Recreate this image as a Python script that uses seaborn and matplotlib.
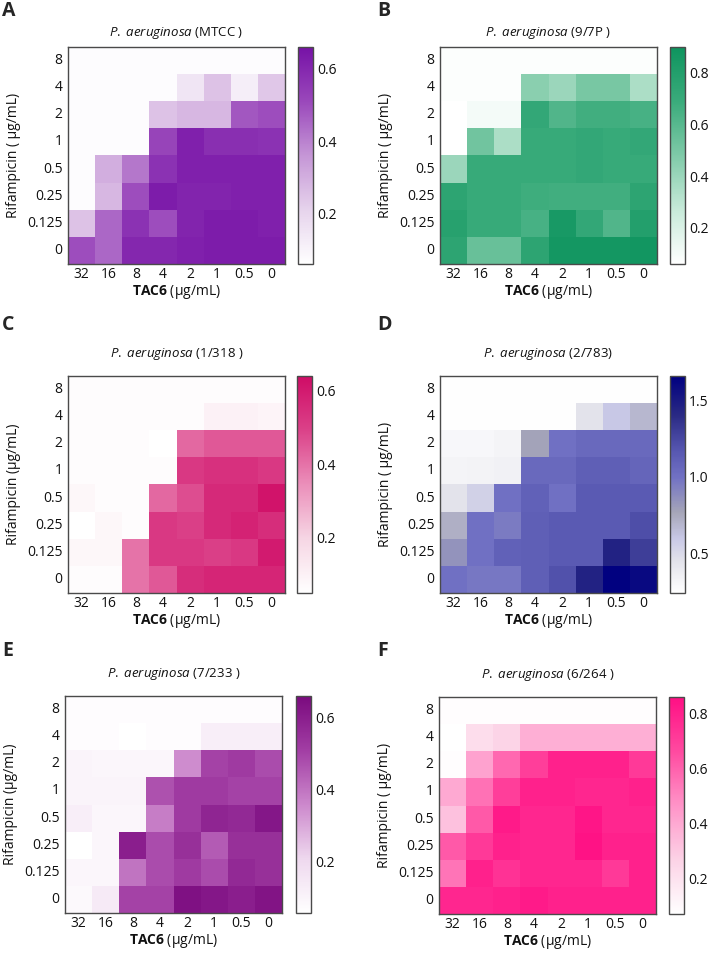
import numpy as np
import pandas as pd
import matplotlib
matplotlib.use("Agg")
import matplotlib.pyplot as plt
import seaborn as sns
from matplotlib.colors import LinearSegmentedColormap

# axis categories (rows top -> bottom, columns left -> right)
rif_levels = ["8", "4", "2", "1", "0.5", "0.25", "0.125", "0"]
tac6_levels = ["32", "16", "8", "4", "2", "1", "0.5", "0"]

# OD readings estimated from the heatmap colours
mtcc = [
    [0.07, 0.07, 0.07, 0.07, 0.07, 0.07, 0.07, 0.07],
    [0.07, 0.07, 0.07, 0.07, 0.15, 0.25, 0.12, 0.24],
    [0.07, 0.07, 0.07, 0.25, 0.28, 0.28, 0.48, 0.50],
    [0.07, 0.07, 0.07, 0.52, 0.62, 0.58, 0.58, 0.57],
    [0.07, 0.30, 0.42, 0.57, 0.62, 0.62, 0.62, 0.62],
    [0.07, 0.28, 0.50, 0.63, 0.61, 0.61, 0.62, 0.62],
    [0.25, 0.45, 0.57, 0.50, 0.61, 0.63, 0.63, 0.62],
    [0.50, 0.45, 0.60, 0.60, 0.62, 0.63, 0.63, 0.63],
]
iso_9_7p = [
    [0.07, 0.07, 0.07, 0.07, 0.07, 0.07, 0.07, 0.07],
    [0.07, 0.07, 0.07, 0.45, 0.40, 0.50, 0.50, 0.35],
    [0.06, 0.10, 0.10, 0.72, 0.62, 0.67, 0.67, 0.65],
    [0.06, 0.52, 0.35, 0.70, 0.70, 0.72, 0.70, 0.72],
    [0.40, 0.70, 0.70, 0.70, 0.70, 0.72, 0.70, 0.70],
    [0.75, 0.70, 0.70, 0.68, 0.67, 0.67, 0.67, 0.75],
    [0.78, 0.70, 0.70, 0.65, 0.85, 0.72, 0.62, 0.80],
    [0.75, 0.55, 0.55, 0.75, 0.87, 0.87, 0.87, 0.88],
]
iso_1_318 = [
    [0.06, 0.06, 0.06, 0.06, 0.06, 0.06, 0.06, 0.06],
    [0.06, 0.06, 0.06, 0.06, 0.06, 0.10, 0.10, 0.09],
    [0.06, 0.06, 0.06, 0.05, 0.42, 0.45, 0.45, 0.45],
    [0.06, 0.06, 0.06, 0.06, 0.52, 0.54, 0.54, 0.52],
    [0.08, 0.06, 0.06, 0.42, 0.47, 0.56, 0.56, 0.62],
    [0.05, 0.08, 0.06, 0.52, 0.50, 0.56, 0.58, 0.55],
    [0.08, 0.08, 0.40, 0.52, 0.52, 0.50, 0.52, 0.60],
    [0.06, 0.06, 0.40, 0.45, 0.55, 0.57, 0.57, 0.57],
]
iso_2_783 = [
    [0.25, 0.25, 0.25, 0.25, 0.25, 0.25, 0.25, 0.25],
    [0.25, 0.25, 0.25, 0.25, 0.25, 0.45, 0.60, 0.68],
    [0.30, 0.30, 0.32, 0.78, 1.00, 1.05, 1.05, 1.05],
    [0.32, 0.33, 0.34, 1.05, 1.05, 1.12, 1.12, 1.08],
    [0.45, 0.55, 1.00, 1.10, 1.00, 1.15, 1.15, 1.15],
    [0.72, 1.00, 0.95, 1.12, 1.15, 1.15, 1.15, 1.22],
    [0.85, 1.00, 1.10, 1.12, 1.15, 1.15, 1.45, 1.30],
    [1.00, 0.97, 0.97, 1.12, 1.20, 1.45, 1.65, 1.60],
]
iso_7_233 = [
    [0.07, 0.07, 0.07, 0.07, 0.07, 0.07, 0.07, 0.07],
    [0.07, 0.07, 0.05, 0.07, 0.07, 0.12, 0.12, 0.12],
    [0.10, 0.09, 0.09, 0.09, 0.35, 0.50, 0.52, 0.48],
    [0.10, 0.10, 0.10, 0.47, 0.52, 0.52, 0.50, 0.50],
    [0.12, 0.09, 0.09, 0.38, 0.52, 0.58, 0.57, 0.62],
    [0.05, 0.09, 0.60, 0.48, 0.55, 0.45, 0.55, 0.55],
    [0.09, 0.09, 0.40, 0.48, 0.52, 0.48, 0.57, 0.55],
    [0.08, 0.14, 0.50, 0.50, 0.64, 0.62, 0.60, 0.63],
]
iso_6_264 = [
    [0.08, 0.08, 0.08, 0.08, 0.08, 0.08, 0.08, 0.08],
    [0.07, 0.22, 0.26, 0.38, 0.38, 0.38, 0.38, 0.38],
    [0.08, 0.42, 0.58, 0.70, 0.80, 0.80, 0.80, 0.72],
    [0.40, 0.56, 0.70, 0.80, 0.80, 0.78, 0.78, 0.80],
    [0.32, 0.62, 0.82, 0.78, 0.78, 0.84, 0.78, 0.78],
    [0.62, 0.72, 0.80, 0.78, 0.78, 0.85, 0.80, 0.80],
    [0.55, 0.80, 0.74, 0.78, 0.78, 0.78, 0.72, 0.80],
    [0.78, 0.78, 0.80, 0.82, 0.80, 0.80, 0.80, 0.80],
]

strains = ["MTCC ", "9/7P ", "1/318 ", "2/783", "7/233 ", "6/264 "]
letters = ["A", "B", "C", "D", "E", "F"]
ylabels = ["Rifampicin ( μg/mL)", "Rifampicin ( μg/mL)", "Rifampicin (μg/mL)",
           "Rifampicin ( μg/mL)", "Rifampicin (μg/mL)", "Rifampicin ( μg/mL)"]
vlims = [(0.06, 0.66), (0.06, 0.90), (0.05, 0.64), (0.24, 1.66), (0.056, 0.66), (0.07, 0.86)]
cbar_ticks = [[0.2, 0.4, 0.6], [0.2, 0.4, 0.6, 0.8], [0.2, 0.4, 0.6],
              [0.5, 1.0, 1.5], [0.2, 0.4, 0.6], [0.2, 0.4, 0.6, 0.8]]

cmaps = [
    LinearSegmentedColormap.from_list("a", ["#ffffff", "#e6d3ec", "#c596d6", "#9a48bb", "#7612a6"]),
    LinearSegmentedColormap.from_list("b", ["#ffffff", "#c7ead9", "#7fcaa8", "#3aab7b", "#0e945e"]),
    LinearSegmentedColormap.from_list("c", ["#ffffff", "#f6d6e4", "#eb8fba", "#db4289", "#cf0c66"]),
    LinearSegmentedColormap.from_list("d", [(0.0, "#ffffff"), (0.15, "#e2e2ea"), (0.25, "#c8c8e6"),
                                            (0.37, "#a6a6b8"), (0.53, "#7272c4"), (0.66, "#5656b0"),
                                            (0.82, "#2a2a84"), (1.0, "#000080")]),
    LinearSegmentedColormap.from_list("e", ["#ffffff", "#eed8ee", "#cc88cc", "#a23ea4", "#7a0a7e"]),
    LinearSegmentedColormap.from_list("f", ["#ffffff", "#fcd2e6", "#ff94c8", "#ff4aa0", "#ff0f84"]),
]
datasets = [mtcc, iso_9_7p, iso_1_318, iso_2_783, iso_7_233, iso_6_264]

# layout in pixels: heatmap left, heatmap top, colorbar left
W, H = 709, 955
layout = [(68, 47, 298), (440, 47, 670), (68, 376, 297),
          (440, 376, 670), (65, 696, 296), (439, 697, 669)]
SIDE = 217

sns.set_style("white")
plt.rcParams["font.family"] = ["Open Sans", "DejaVu Sans"]
plt.rcParams["mathtext.fontset"] = "custom"
plt.rcParams["mathtext.rm"] = "Open Sans"
plt.rcParams["mathtext.it"] = "Open Sans:italic"
plt.rcParams["mathtext.bf"] = "Open Sans:bold"

fig = plt.figure(figsize=(W / 100, H / 100), dpi=100)


def box(x, y, w, h):
    return [x / W, 1 - (y + h) / H, w / W, h / H]


for i in range(6):
    hx, hy, cx = layout[i]
    ax = fig.add_axes(box(hx, hy, SIDE, SIDE))
    cax = fig.add_axes(box(cx, hy, 15, SIDE))
    df = pd.DataFrame(datasets[i], index=rif_levels, columns=tac6_levels)
    vmin, vmax = vlims[i]
    sns.heatmap(df, ax=ax, cbar_ax=cax, cmap=cmaps[i], vmin=vmin, vmax=vmax,
                cbar_kws={"ticks": cbar_ticks[i]})
    ax.tick_params(axis="y", length=0, pad=4, labelsize=10, colors="#111111")
    ax.tick_params(axis="x", length=0, pad=2, labelsize=10, colors="#111111")
    ax.set_yticklabels(rif_levels, rotation=0)
    ax.set_xticklabels(tac6_levels, rotation=0)
    for s in ax.spines.values():
        s.set_visible(True)
        s.set_color("#4a4a4a")
        s.set_linewidth(1.0)
    ax.set_xlabel(r"$\bf{TAC6}$ (μg/mL)", fontsize=10, labelpad=1, color="#111111")
    ax.set_ylabel(ylabels[i], fontsize=10, labelpad=4, color="#111111")

    cbar = ax.collections[0].colorbar
    cbar.outline.set_edgecolor("#4a4a4a")
    cbar.outline.set_linewidth(1.0)
    cbar.set_ticklabels(["{:.1f}".format(t) for t in cbar_ticks[i]])
    cax.tick_params(direction="in", length=2.5, width=0.8, labelsize=10, pad=3, colors="#111111")

    cxt = hx + SIDE / 2
    fig.text(cxt / W, 1 - (hy - 14 if i < 2 else hy - 22) / H,
             r"$\it{P.}$ $\it{aeruginosa}$ (" + strains[i] + ")",
             ha="center", va="center", fontsize=9.5, color="#111111")
    lx = 2 if i % 2 == 0 else 377
    ly = [11, 11, 325, 325, 651, 651][i]
    fig.text(lx / W, 1 - ly / H, letters[i], ha="left", va="center",
             fontsize=14, fontweight="bold")

fig.savefig("out.png", dpi=100)
